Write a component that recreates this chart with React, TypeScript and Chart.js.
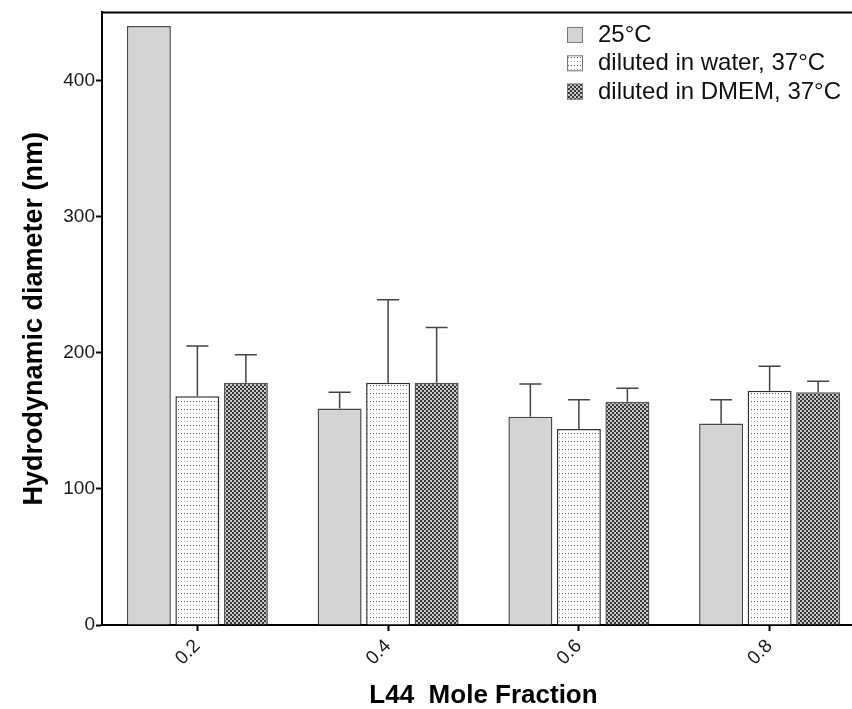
import React, { useEffect, useRef } from 'react';
import { Chart, registerables } from 'chart.js';

Chart.register(...registerables);

const categories = ['0.2', '0.4', '0.6', '0.8'];
const seriesLabels = ['25°C', 'diluted in water, 37°C', 'diluted in DMEM, 37°C'];
const values25 = [440, 159, 153, 148];
const valuesWater = [168, 178, 144, 172];
const valuesDmem = [178, 178, 164, 171];
const err25 = [0, 12, 24, 17.5];
const errWater = [37, 61, 21.5, 18];
const errDmem = [20.5, 40.5, 10, 8];
const yTicks = [0, 100, 200, 300, 400];
const yMax = 450;

const FONT = '"Liberation Sans", Arial, Helvetica, sans-serif';

function makePattern(kind: string): CanvasPattern | string {
  const c = document.createElement('canvas');
  const g = c.getContext('2d');
  if (!g) return '#ccc';
  if (kind === 'dots') {
    c.width = 3;
    c.height = 8;
    g.fillStyle = '#ffffff';
    g.fillRect(0, 0, 3, 8);
    g.fillStyle = '#555555';
    g.fillRect(1, 1, 1, 1);
    g.fillStyle = '#b0b0b0';
    g.fillRect(1, 5, 1, 1);
  } else {
    c.width = 4;
    c.height = 4;
    g.fillStyle = '#c8c8c8';
    g.fillRect(0, 0, 4, 4);
    g.fillStyle = '#383838';
    g.fillRect(0, 0, 2, 2);
    g.fillRect(2, 2, 2, 2);
  }
  return g.createPattern(c, 'repeat') || '#ccc';
}

export default function App() {
  const ref = useRef<HTMLCanvasElement | null>(null);

  useEffect(() => {
    const canvas = ref.current;
    if (!canvas) return;
    const fills = ['#d4d4d4', makePattern('dots'), makePattern('checker')];
    const borders = ['#4a4a4a', '#333333', '#555555'];
    const dataSets = [values25, valuesWater, valuesDmem];
    const errSets = [err25, errWater, errDmem];

    const errorBars = {
      id: 'errorBars',
      afterDatasetsDraw(chart: any) {
        const ctx = chart.ctx;
        const y = chart.scales.y;
        dataSets.forEach((vals, i) => {
          const meta = chart.getDatasetMeta(i);
          meta.data.forEach((bar: any, j: number) => {
            const e = errSets[i][j];
            if (!e) return;
            const top = y.getPixelForValue(vals[j] + e);
            ctx.save();
            ctx.strokeStyle = '#444';
            ctx.lineWidth = 1.5;
            ctx.beginPath();
            ctx.moveTo(bar.x, bar.y);
            ctx.lineTo(bar.x, top);
            ctx.moveTo(bar.x - 11, top);
            ctx.lineTo(bar.x + 11, top);
            ctx.stroke();
            ctx.restore();
          });
        });
      },
    };

    const frameAndLegend = {
      id: 'frameAndLegend',
      afterDraw(chart: any) {
        const ctx = chart.ctx;
        const a = chart.chartArea;
        ctx.save();
        ctx.strokeStyle = '#000';
        ctx.lineWidth = 2;
        ctx.beginPath();
        ctx.moveTo(a.left - 1, a.top);
        ctx.lineTo(a.right + 1, a.top);
        ctx.lineTo(a.right + 1, a.bottom);
        ctx.stroke();
        // legend
        const boxX = 567;
        const textX = 598;
        const rowTop = 27;
        const rowStep = 28.3;
        ctx.font = `24px ${FONT}`;
        ctx.textBaseline = 'middle';
        ctx.textAlign = 'left';
        seriesLabels.forEach((lab, i) => {
          const ty = rowTop + i * rowStep;
          ctx.fillStyle = fills[i] as any;
          ctx.fillRect(boxX, ty, 16, 16);
          ctx.strokeStyle = '#7a7a7a';
          ctx.lineWidth = 1;
          ctx.strokeRect(boxX + 0.5, ty + 0.5, 15, 15);
          ctx.fillStyle = '#111';
          ctx.fillText(lab, textX, ty + 8.5);
        });
        ctx.restore();
      },
    };

    const chart = new Chart(canvas, {
      type: 'bar',
      data: {
        labels: categories,
        datasets: dataSets.map((vals, i) => ({
          label: seriesLabels[i],
          data: vals,
          backgroundColor: fills[i] as any,
          borderColor: borders[i],
          borderWidth: 1.5,
          categoryPercentage: 0.763,
          barPercentage: 0.907,
        })),
      },
      options: {
        animation: false,
        responsive: false,
        maintainAspectRatio: false,
        layout: { padding: { top: 12, right: 15, left: 0, bottom: 0 } },
        plugins: {
          legend: { display: false },
          tooltip: { enabled: false },
        },
        scales: {
          x: {
            type: 'category',
            offset: true,
            grid: {
              display: true,
              drawOnChartArea: false,
              drawTicks: true,
              offset: false,
              tickLength: 6,
              tickWidth: 2,
              tickColor: '#000',
            },
            border: { display: true, color: '#000', width: 2 },
            ticks: {
              maxRotation: 45,
              minRotation: 45,
              padding: 4,
              color: '#1a1a1a',
              font: { family: FONT, size: 19 },
            },
            title: {
              display: true,
              text: 'L44  Mole Fraction',
              color: '#000',
              font: { family: FONT, size: 26, weight: 'bold', lineHeight: 1 },
              padding: { top: 0, bottom: 0 },
            },
            afterFit(scale: any) {
              scale.height = 84;
            },
          },
          y: {
            min: 0,
            max: yMax,
            grid: {
              display: true,
              drawOnChartArea: false,
              drawTicks: true,
              tickLength: 6,
              tickWidth: 2,
              tickColor: '#000',
            },
            border: { display: true, color: '#000', width: 2 },
            ticks: {
              includeBounds: false,
              padding: 1,
              color: '#1a1a1a',
              font: { family: FONT, size: 19 },
            },
            afterBuildTicks(scale: any) {
              scale.ticks = yTicks.map((v) => ({ value: v }));
            },
            title: {
              display: true,
              text: 'Hydrodynamic diameter (nm)',
              color: '#000',
              font: { family: FONT, size: 27, weight: 'bold', lineHeight: 1 },
              padding: { top: 21, bottom: 0 },
            },
            afterFit(scale: any) {
              scale.width = 102;
            },
          },
        },
      } as any,
      plugins: [errorBars, frameAndLegend],
    });

    return () => chart.destroy();
  }, []);

  return (
    <div
      style={{
        position: 'fixed',
        left: 0,
        top: 0,
        width: 852,
        height: 709,
        overflow: 'hidden',
        background: '#fff',
      }}
    >
      <canvas ref={ref} width={880} height={709} style={{ display: 'block' }} />
    </div>
  );
}
